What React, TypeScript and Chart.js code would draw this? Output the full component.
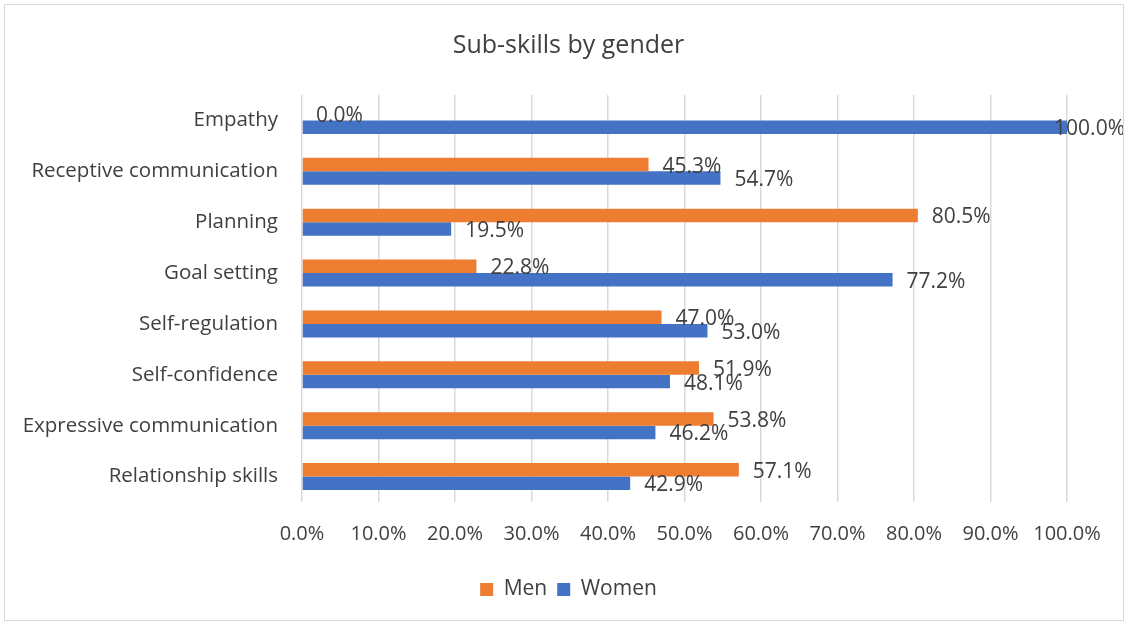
import React, { useEffect, useRef } from "react";
import { Chart, registerables } from "chart.js";

Chart.register(...registerables);

const categories = [
  "Empathy",
  "Receptive communication",
  "Planning",
  "Goal setting",
  "Self-regulation",
  "Self-confidence",
  "Expressive communication",
  "Relationship skills",
];
const menValues = [0.0, 45.3, 80.5, 22.8, 47.0, 51.9, 53.8, 57.1];
const womenValues = [100.0, 54.7, 19.5, 77.2, 53.0, 48.1, 46.2, 42.9];
const xTicks = [0, 10, 20, 30, 40, 50, 60, 70, 80, 90, 100];

const FONT = "'Open Sans', sans-serif";

const labelPlugin = {
  id: "barLabels",
  afterDatasetsDraw(chart: any) {
    const ctx = chart.ctx;
    ctx.save();
    ctx.font = `21px ${FONT}`;
    ctx.fillStyle = "#404040";
    ctx.textBaseline = "middle";
    ctx.textAlign = "left";
    chart.data.datasets.forEach((ds: any, di: number) => {
      const meta = chart.getDatasetMeta(di);
      meta.data.forEach((bar: any, i: number) => {
        const txt = Number(ds.data[i]).toFixed(1) + "%";
        const w = ctx.measureText(txt).width;
        let x = bar.x + 14;
        if (x + w > chart.width - 2) x = chart.width - 2 - w;
        ctx.fillText(txt, x, bar.y + 2);
      });
    });
    ctx.restore();
  },
};

export default function App() {
  const ref = useRef<HTMLCanvasElement>(null);
  useEffect(() => {
    document.body.style.margin = "0";
    const chart = new Chart(ref.current!, {
      type: "bar",
      data: {
        labels: categories,
        datasets: [
          {
            label: "Men",
            data: menValues,
            backgroundColor: "#ED7D31",
            categoryPercentage: 0.53,
            barPercentage: 1.0,
          },
          {
            label: "Women",
            data: womenValues,
            backgroundColor: "#4472C4",
            categoryPercentage: 0.53,
            barPercentage: 1.0,
          },
        ],
      },
      plugins: [labelPlugin],
      options: {
        indexAxis: "y",
        animation: false,
        responsive: false,
        maintainAspectRatio: false,
        layout: { padding: { top: 31, left: 10, right: 0, bottom: 14 } },
        plugins: {
          title: {
            display: true,
            text: "Sub-skills by gender",
            color: "#404040",
            font: { family: FONT, size: 25, weight: "normal" },
            padding: { top: 0, bottom: 34 },
          },
          legend: {
            position: "bottom",
            labels: {
              color: "#404040",
              font: { family: FONT, size: 21 },
              boxWidth: 13,
              boxHeight: 13,
              padding: 10,
            },
          },
          tooltip: { enabled: false },
        },
        scales: {
          x: {
            min: 0,
            max: 100,
            afterBuildTicks: (scale: any) => {
              scale.ticks = xTicks.map((v) => ({ value: v }));
            },
            afterFit: (scale: any) => {
              scale.height = 67;
            },
            ticks: {
              color: "#404040",
              font: { family: FONT, size: 20 },
              padding: 20,
              maxRotation: 0,
              callback: (v: any) => Number(v).toFixed(1) + "%",
            },
            grid: { color: "#d9d9d9", lineWidth: 1.5, drawTicks: false },
            border: { display: false },
          },
          y: {
            afterFit: (scale: any) => {
              scale.width = 292;
            },
            ticks: {
              color: "#404040",
              font: { family: FONT, size: 20.5 },
              padding: 24,
            },
            grid: { display: false, drawTicks: false },
            border: { display: false },
          },
          yRight: {
            type: "linear",
            position: "right",
            display: true,
            ticks: { display: false },
            grid: { display: false, drawTicks: false },
            border: { display: false },
            afterFit: (scale: any) => {
              scale.width = 60;
            },
          },
        },
      },
    });
    return () => chart.destroy();
  }, []);
  return (
    <div style={{ position: "relative", width: 1127, height: 624 }}>
      <canvas ref={ref} width={1127} height={624} style={{ display: "block" }} />
      <div
        style={{
          position: "absolute",
          left: 4,
          top: 4,
          width: 1118,
          height: 615,
          border: "1px solid #d9d9d9",
          pointerEvents: "none",
        }}
      />
    </div>
  );
}
